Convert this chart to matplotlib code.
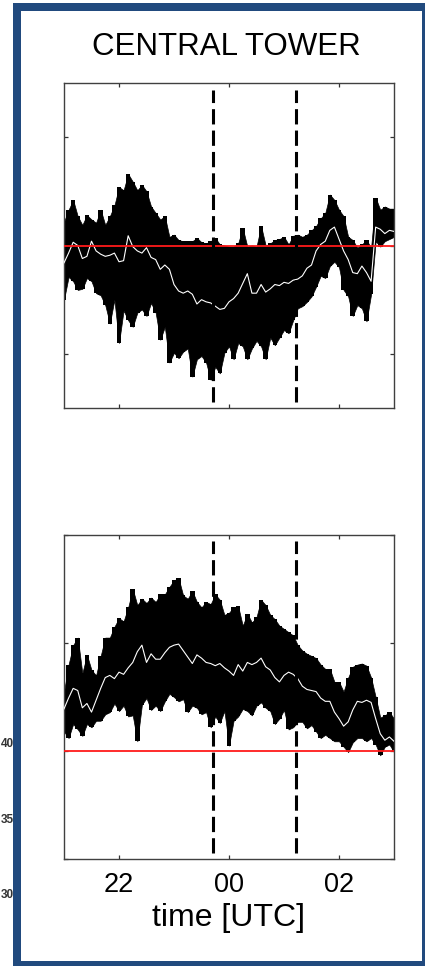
import numpy as np
import matplotlib.pyplot as plt
from matplotlib.patches import Rectangle

plt.rcParams['font.family'] = ['Liberation Sans', 'DejaVu Sans']

# sampling times: every 5 min from 21 UTC to 03 UTC (hours after midnight of day 1)
t_hours = 21 + np.arange(0, 361, 5) / 60.0

# upper panel: spread of the raw signal and its running mean
hi_top = [0.22, 0.33, 0.42, 0.27, 0.19, 0.28, 0.24, 0.21, 0.33, 0.19,
          0.27, 0.37, 0.54, 0.51, 0.66, 0.59, 0.51, 0.56, 0.50, 0.36,
          0.30, 0.24, 0.27, 0.08, 0.10, 0.05, 0.04, 0.04, 0.04, 0.07,
          0.03, 0.02, 0.04, 0.07, 0.01, 0.00, -0.01, -0.01, 0.02, 0.16,
          -0.01, 0.00, -0.01, 0.18, 0.00, 0.02, 0.05, 0.06, 0.08, 0.01,
          0.09, 0.10, 0.08, 0.10, 0.14, 0.18, 0.25, 0.30, 0.47, 0.42,
          0.33, 0.27, 0.08, 0.05, -0.02, 0.01, 0.05, -0.02, 0.44, 0.33,
          0.36, 0.34, 0.34]
lo_top = [-0.50, -0.29, -0.33, -0.41, -0.40, -0.30, -0.33, -0.44, -0.46, -0.55,
          -0.72, -0.50, -0.90, -0.60, -0.69, -0.75, -0.62, -0.59, -0.65, -0.53,
          -0.62, -0.87, -0.75, -1.08, -0.99, -1.04, -0.98, -0.95, -1.21, -1.05,
          -1.02, -1.08, -1.24, -1.12, -1.18, -0.99, -0.93, -1.05, -0.90, -0.93,
          -1.05, -0.95, -0.88, -0.93, -1.05, -0.85, -0.92, -0.85, -0.78, -0.81,
          -0.69, -0.58, -0.56, -0.52, -0.47, -0.38, -0.28, -0.30, -0.19, -0.15,
          -0.20, -0.41, -0.47, -0.65, -0.55, -0.58, -0.70, -0.45, 0.04, -0.01,
          0.04, 0.06, 0.08]
mean_top = [-0.16, -0.07, 0.03, 0.00, -0.12, -0.10, 0.04, -0.05, -0.08, -0.10,
            -0.09, -0.07, -0.15, -0.14, 0.09, -0.01, -0.05, -0.07, -0.02, -0.11,
            -0.13, -0.22, -0.18, -0.22, -0.36, -0.42, -0.44, -0.42, -0.45, -0.54,
            -0.50, -0.52, -0.53, -0.56, -0.59, -0.58, -0.52, -0.49, -0.44, -0.35,
            -0.26, -0.44, -0.44, -0.36, -0.43, -0.40, -0.36, -0.37, -0.34, -0.35,
            -0.32, -0.31, -0.28, -0.21, -0.18, -0.05, 0.01, 0.04, 0.14, 0.17,
            0.06, -0.05, -0.13, -0.25, -0.26, -0.19, -0.25, -0.33, 0.17, 0.15,
            0.11, 0.14, 0.13]

# lower panel
hi_bot = [0.55, 0.80, 0.98, 1.05, 0.72, 0.89, 0.75, 0.70, 0.88, 1.05,
          1.05, 1.15, 1.23, 1.20, 1.33, 1.50, 1.35, 1.41, 1.37, 1.42,
          1.38, 1.45, 1.45, 1.52, 1.58, 1.60, 1.44, 1.41, 1.48, 1.38,
          1.33, 1.38, 1.36, 1.45, 1.40, 1.26, 1.28, 1.33, 1.34, 1.16,
          1.27, 1.19, 1.24, 1.40, 1.35, 1.26, 1.22, 1.16, 1.13, 1.10,
          1.07, 0.98, 0.93, 0.90, 0.88, 0.86, 0.80, 0.76, 0.76, 0.64,
          0.64, 0.55, 0.68, 0.78, 0.80, 0.81, 0.79, 0.68, 0.50, 0.31,
          0.33, 0.36, 0.30]
lo_bot = [0.18, 0.12, 0.25, 0.20, 0.14, 0.25, 0.22, 0.28, 0.28, 0.34,
          0.36, 0.44, 0.37, 0.42, 0.32, 0.33, 0.09, 0.43, 0.49, 0.38,
          0.42, 0.37, 0.46, 0.53, 0.50, 0.46, 0.48, 0.36, 0.42, 0.40,
          0.34, 0.36, 0.22, 0.32, 0.26, 0.37, 0.05, 0.28, 0.32, 0.39,
          0.37, 0.33, 0.42, 0.45, 0.40, 0.37, 0.25, 0.30, 0.38, 0.20,
          0.22, 0.27, 0.27, 0.21, 0.24, 0.18, 0.12, 0.15, 0.12, 0.09,
          0.09, 0.04, -0.01, 0.08, 0.12, 0.12, 0.09, 0.12, 0.06, -0.04,
          0.04, 0.06, -0.01]
mean_bot = [0.39, 0.49, 0.58, 0.56, 0.40, 0.44, 0.36, 0.47, 0.58, 0.68,
            0.70, 0.67, 0.73, 0.71, 0.77, 0.82, 0.92, 0.98, 0.82, 0.90,
            0.85, 0.85, 0.91, 0.96, 0.98, 0.99, 0.93, 0.87, 0.81, 0.89,
            0.86, 0.82, 0.81, 0.79, 0.81, 0.77, 0.74, 0.70, 0.80, 0.74,
            0.82, 0.80, 0.82, 0.86, 0.78, 0.75, 0.68, 0.64, 0.70, 0.73,
            0.71, 0.67, 0.60, 0.57, 0.56, 0.55, 0.49, 0.46, 0.46, 0.36,
            0.30, 0.23, 0.27, 0.38, 0.46, 0.45, 0.47, 0.45, 0.30, 0.16,
            0.10, 0.13, 0.09]

# event window (UTC hours) and reference level
event_times = [23.71, 25.22]
ref_level = 0.0
xtick_pos = [22, 24, 26]
xtick_lab = ['22', '00', '02']

W, H = 425, 966
fig = plt.figure(figsize=(W / 100, H / 100), dpi=100)

def px_axes(x0, y0, x1, y1):
    return fig.add_axes([x0 / W, 1 - y1 / H, (x1 - x0) / W, (y1 - y0) / H])

ax_top = px_axes(64, 83, 394, 408)
ax_bot = px_axes(64, 535, 394, 859)

panels = [
    (ax_top, hi_top, lo_top, mean_top, (-1.5, 1.5), [-1, 0, 1]),
    (ax_bot, hi_bot, lo_bot, mean_bot, (-1.0, 2.0), [-1, 0, 1, 2]),
]

for ax, hi, lo, mean, ylim, yt in panels:
    # spread drawn as the min/max of each 5-min block plus a smoothed envelope
    ax.fill_between(t_hours, lo, hi, step='mid', color='black', lw=0, zorder=2)
    ax.fill_between(t_hours, lo, hi, color='black', lw=0.5, edgecolor='black', zorder=2)
    ax.plot(t_hours, mean, color='white', lw=0.8, zorder=3)
    ax.axhline(ref_level, color='#ff1a1a', lw=1.3, zorder=4)
    for te in event_times:
        ax.axvline(te, ymin=0.02, ymax=0.98, color='black', lw=2.2,
                   dashes=(5, 2), zorder=5)
    ax.set_xlim(21, 27)
    ax.set_ylim(*ylim)
    ax.set_yticks(yt)
    ax.set_yticklabels([])
    ax.set_xticks(xtick_pos)
    ax.tick_params(direction='in', length=3, width=0.9, color='#333333',
                   top=True, right=True, labelsize=19.5, pad=9)
    for sp in ax.spines.values():
        sp.set_color('#404040')
        sp.set_linewidth(1.0)

ax_top.set_xticklabels([])
ax_bot.set_xticklabels(xtick_lab)
ax_bot.set_xlabel('time [UTC]', fontsize=23, labelpad=4)

fig.text(226 / W, 1 - 47 / H, 'CENTRAL TOWER', ha='center', va='center',
         fontsize=22.5)

# tick labels of the neighbouring figure, partly hidden behind the frame
for yy, s in [(744, '400'), (820, '350'), (895, '300')]:
    fig.text(0.5 / W, 1 - yy / H, s, ha='left', va='center', fontsize=8.5,
             fontweight='bold', color='#333333', zorder=1)

# blue frame
frame = '#214a7e'
for x0, y0, x1, y1 in [(13, 3, 21, 966), (13, 3, 425, 11),
                       (422, 3, 425, 966), (13, 961, 425, 966)]:
    fig.add_artist(Rectangle((x0 / W, 1 - y1 / H), (x1 - x0) / W, (y1 - y0) / H,
                             transform=fig.transFigure, facecolor=frame,
                             edgecolor='none', zorder=10))

fig.savefig('out.png', dpi=100)
